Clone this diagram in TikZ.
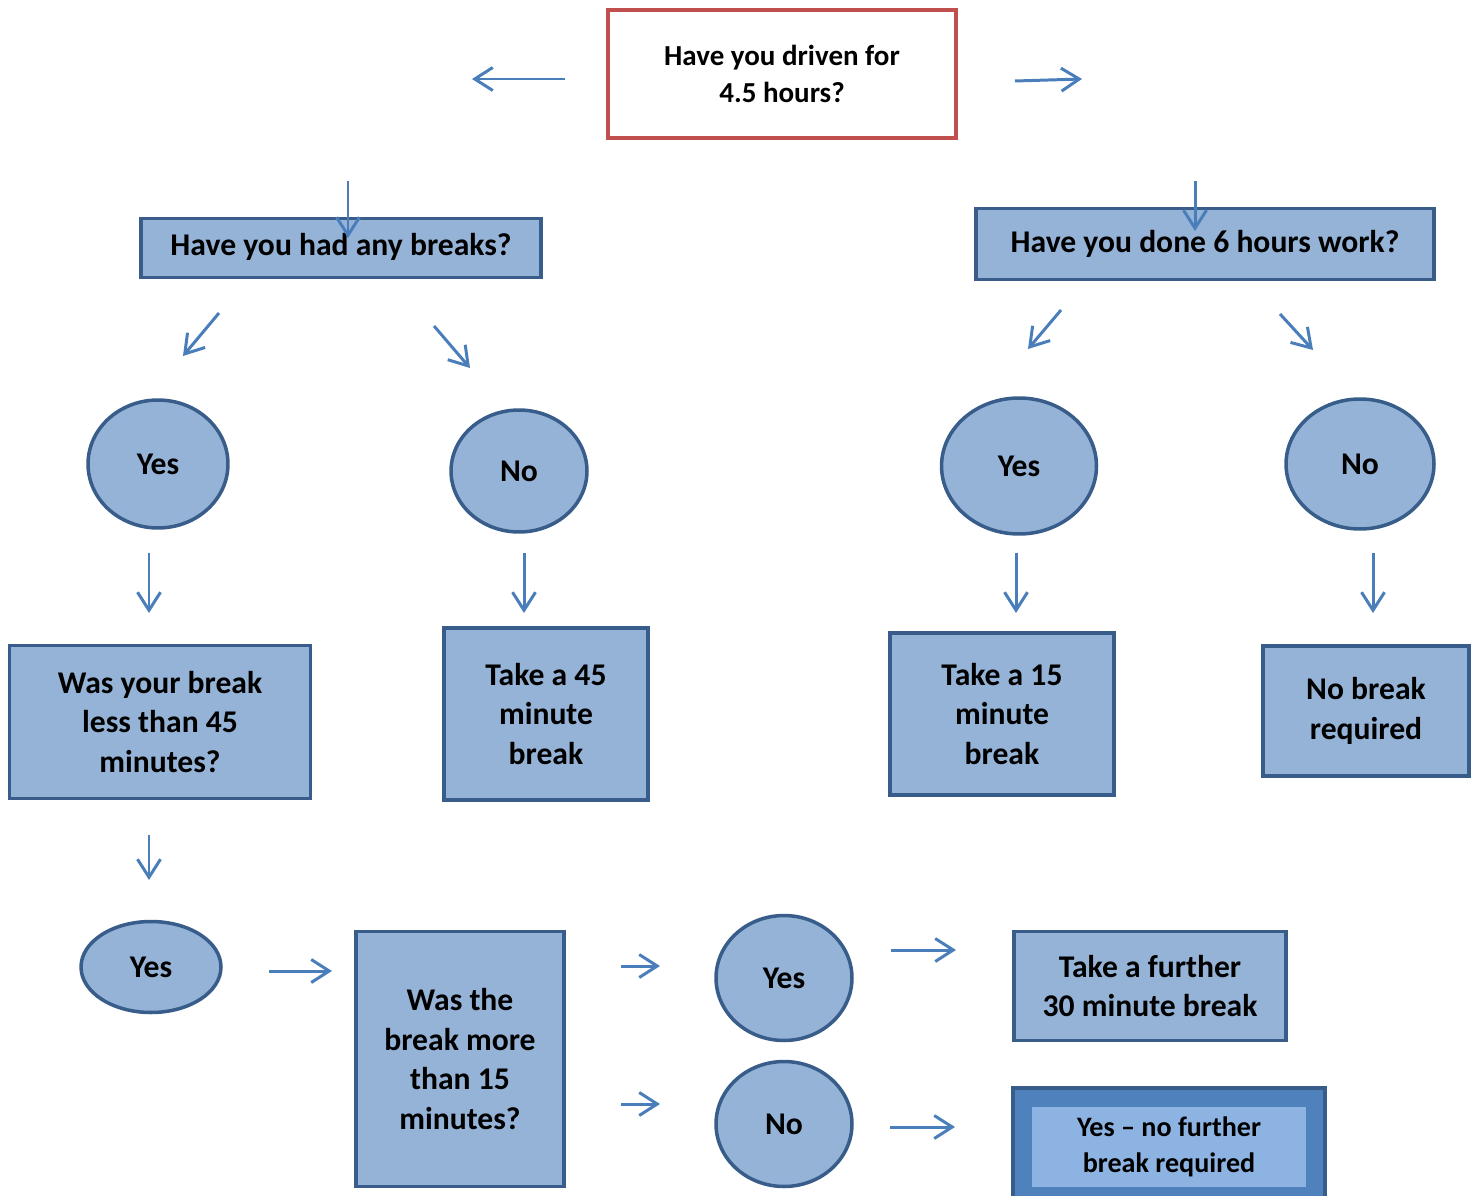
\documentclass[tikz,border=0pt]{standalone}
\usepackage{fontspec}
\setmainfont{Carlito}
\usepackage{xcolor}
\usetikzlibrary{arrows.meta,shapes.geometric}
\definecolor{qfill}{HTML}{95B3D7}
\definecolor{qline}{HTML}{385D8A}
\definecolor{qred}{HTML}{C0504D}
\definecolor{aline}{HTML}{4A7EBB}
\definecolor{finout}{HTML}{4F81BD}
\definecolor{finin}{HTML}{8DB3E2}

\begin{document}
\begin{tikzpicture}[x=0.02cm,y=-0.02cm,>={Straight Barb[length=3.6mm,width=4.6mm]},
  font=\bfseries\fontsize{18}{22.5}\selectfont,
  qbox/.style={draw=qline,line width=2pt,fill=qfill,align=center,inner sep=2pt},
  ans/.style={ellipse,draw=qline,line width=2pt,fill=qfill,inner sep=0pt},
  flow/.style={->,draw=aline,line width=1.7pt}]
\useasboundingbox (0,0) rectangle (1477,1196);
% questions and answers
\node[qbox,draw=qred,fill=white,line width=2.3pt,minimum width=6.98cm,minimum height=2.56cm,
  font=\bfseries\fontsize{16.5}{21}\selectfont] (top) at (782,74) {Have you driven for\\ 4.5 hours?};
\node[qbox,minimum width=8cm,minimum height=1.18cm,text height=1.1em,text depth=0.22em] (breaks) at (341,248) {Have you had any breaks?};
\node[qbox,minimum width=9.16cm,minimum height=1.42cm] (six) at (1205,244) {Have you done 6 hours work?};
\node[ans,minimum width=2.8cm,minimum height=2.56cm] (yesA) at (158,464) {Yes};
\node[ans,minimum width=2.72cm,minimum height=2.44cm] (noA) at (519,471) {No};
\node[ans,minimum width=3.1cm,minimum height=2.72cm] (yesB) at (1019,466) {Yes};
\node[ans,minimum width=2.96cm,minimum height=2.6cm] (noB) at (1360,464) {No};
\node[qbox,minimum width=6.02cm,minimum height=3.06cm] (less) at (160,722) {Was your break\\ less than 45\\ minutes?};
\node[qbox,minimum width=4.08cm,minimum height=3.44cm] (take45) at (546,714) {Take a 45\\ minute\\ break};
\node[qbox,minimum width=4.48cm,minimum height=3.24cm] (take15) at (1002,714) {Take a 15\\ minute\\ break};
\node[qbox,minimum width=4.12cm,minimum height=2.6cm] (nobrk) at (1366,711) {No break\\ required};
\node[ans,minimum width=2.8cm,minimum height=1.82cm] (yesC) at (151,967) {Yes};
\node[qbox,minimum width=4.16cm,minimum height=5.1cm] (more) at (460,1059) {Was the\\ break more\\ than 15\\ minutes?};
\node[ans,minimum width=2.72cm,minimum height=2.5cm] (yesD) at (784,978) {Yes};
\node[ans,minimum width=2.72cm,minimum height=2.5cm] (noD) at (784,1124) {No};
\node[qbox,minimum width=5.44cm,minimum height=2.18cm] (further) at (1150,986) {Take a further\\ 30 minute break};
\node[qbox,fill=finout,minimum width=6.24cm,minimum height=2.32cm] (fout) at (1169,1146) {};
\node[fill=finin,align=center,minimum width=5.48cm,minimum height=1.6cm,inner sep=2pt,
  font=\bfseries\fontsize{16}{20.5}\selectfont] (fin) at (1169,1147) {Yes -- no further\\ break required};
% free arrows
\foreach \n/\ax/\ay/\bx/\by in {
  a/565/79/472/79, b/1015/81/1082/79, c/348/181/348/238, d/1195/181/1195/231,
  e/219/313/183/356, f/434/326/470/368, g/1061/310/1028/349, h/1280/314/1313/350,
  i/149/553/149/613, j/524/553/524/613, k/1016/553/1016/613, l/1373/553/1373/613,
  m/149/835/149/880, n/269/971/332/971, o/621/966/660/966, p/621/1104/660/1104,
  q/891/950/956/950, r/890/1127/955/1127} {
  \coordinate (\n0) at (\ax,\ay);
  \coordinate (\n1) at (\bx,\by);
  \draw[flow] (\n0) -- (\n1);
}
\end{tikzpicture}
\end{document}
